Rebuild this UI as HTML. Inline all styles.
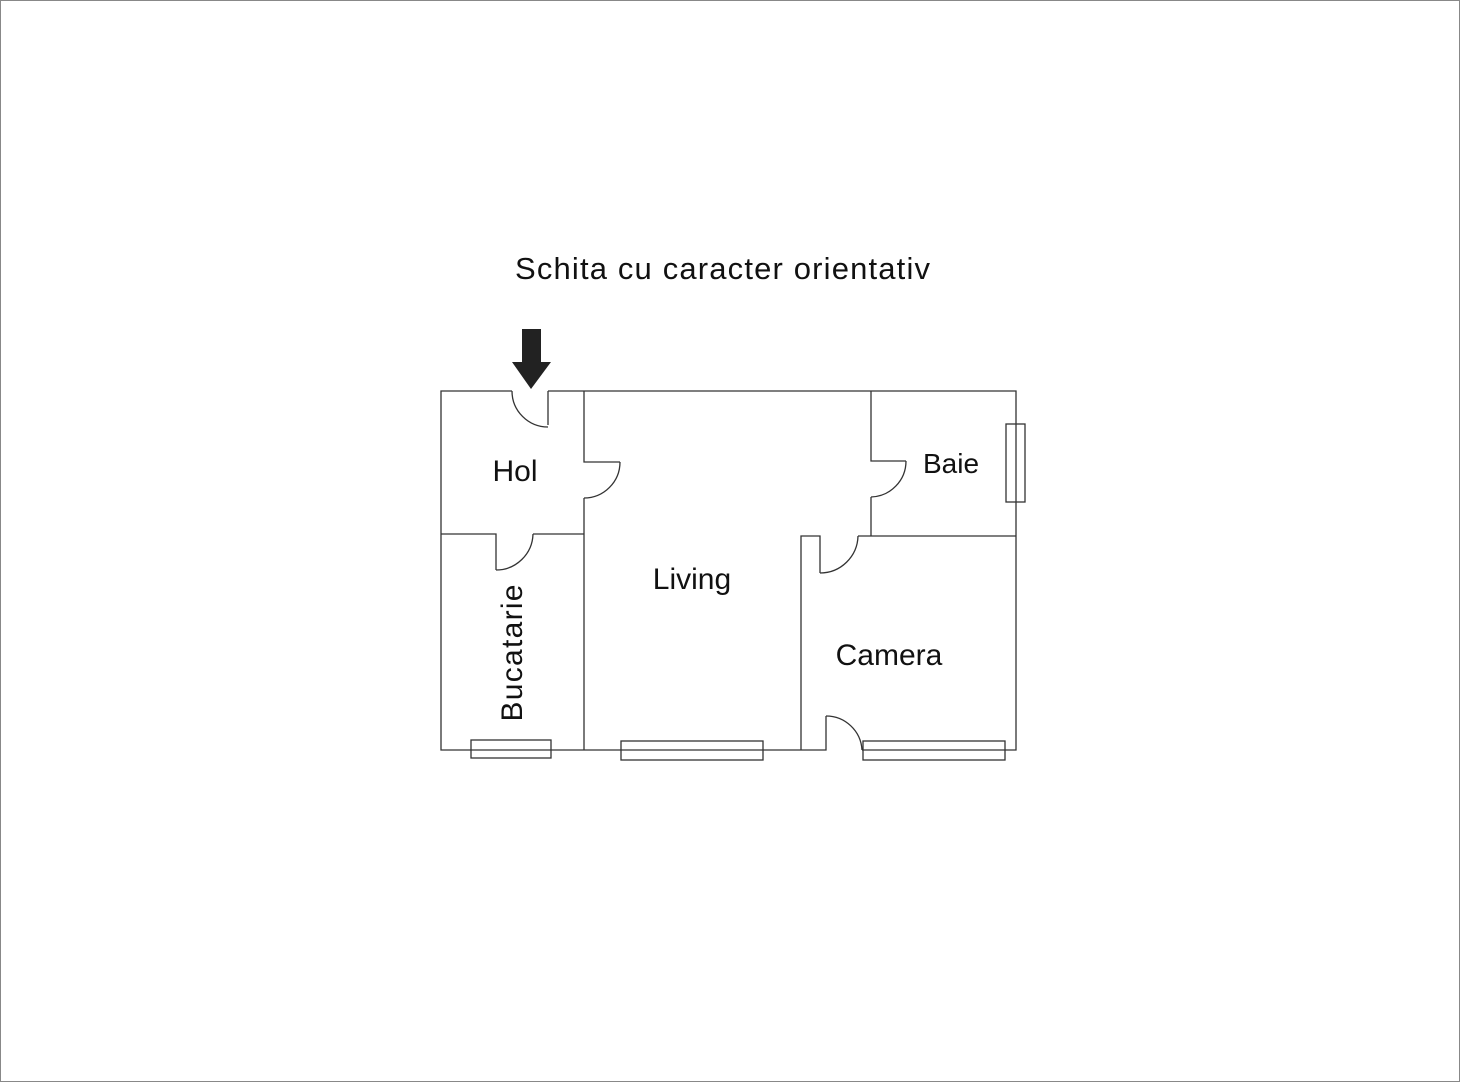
<!DOCTYPE html>
<html><head><meta charset="utf-8"><style>
html,body{margin:0;padding:0;background:#fff}
svg{display:block}
text{font-family:"Liberation Sans",sans-serif;fill:#111}
</style></head><body>
<svg width="1460" height="1082" viewBox="0 0 1460 1082" xmlns="http://www.w3.org/2000/svg">
<rect x="0.5" y="0.5" width="1459" height="1081" fill="#fff" stroke="#888" stroke-width="1"/>
<text x="515" y="279" font-size="31" textLength="415" lengthAdjust="spacing">Schita cu caracter orientativ</text>
<!-- arrow -->
<rect x="522" y="329" width="19" height="34" fill="#222"/>
<polygon points="512,362 551,362 531,389" fill="#222"/>
<g fill="none" stroke="#333" stroke-width="1.3">
<polyline points="512,391 441,391 441,750 826,750 826,716"/>
<polyline points="548,391 1016,391 1016,750 862,750"/>
<line x1="548" y1="391" x2="548" y2="425"/>
<path d="M548,427 A36,36 0 0 1 512,391"/>
<polyline points="584,391 584,462 620,462"/>
<path d="M620,462 A36,36 0 0 1 584,498"/>
<line x1="584" y1="498" x2="584" y2="750"/>
<polyline points="441,534 496,534 496,570"/>
<path d="M496,570 A37,37 0 0 0 533,534"/>
<line x1="533" y1="534" x2="584" y2="534"/>
<polyline points="871,391 871,461 906,461"/>
<path d="M906,461 A36,36 0 0 1 871,497"/>
<line x1="871" y1="497" x2="871" y2="536"/>
<line x1="858" y1="536" x2="1016" y2="536"/>
<polyline points="801,750 801,536 820,536 820,573"/>
<path d="M820,573 A38,38 0 0 0 858,536"/>
<path d="M826,716 A36,36 0 0 1 862,750"/>
<rect x="471" y="740" width="80" height="18"/>
<rect x="621" y="741" width="142" height="19"/>
<rect x="863" y="741" width="142" height="19"/>
<rect x="1006" y="424" width="19" height="78"/>
</g>
<text x="515" y="481" font-size="30" text-anchor="middle">Hol</text>
<text x="692" y="589" font-size="30" text-anchor="middle">Living</text>
<text x="951" y="473" font-size="28" text-anchor="middle" fill="#444">Baie</text>
<text x="889" y="665" font-size="30" text-anchor="middle">Camera</text>
<text x="0" y="0" font-size="30" text-anchor="middle" textLength="137" lengthAdjust="spacing" transform="translate(522,653) rotate(-90)">Bucatarie</text>
</svg>
</body></html>
